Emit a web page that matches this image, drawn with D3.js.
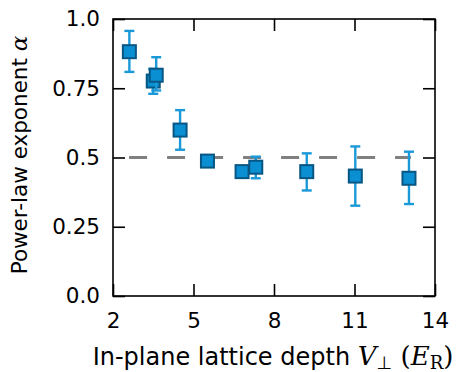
<!DOCTYPE html>
<html>
<head>
<meta charset="utf-8">
<script src="https://cdn.jsdelivr.net/npm/d3@7"></script>
<style>
  body { margin: 0; background: #fff; }
  svg { display: block; }
</style>
</head>
<body>
<div id="chart"></div>
<script>
'use strict';

// lattice depth V_perp (E_R) and fitted exponent with error bars
var depth = [2.61, 3.50, 3.61, 4.50, 5.52, 6.81, 7.32, 9.22, 11.03, 13.03];
var alpha = [0.882, 0.776, 0.797, 0.599, 0.487, 0.449, 0.465, 0.449, 0.433, 0.425];
var alphaLo = [0.809, 0.730, 0.742, 0.528, 0.475, 0.437, 0.425, 0.381, 0.326, 0.332];
var alphaHi = [0.957, 0.820, 0.862, 0.671, 0.499, 0.461, 0.503, 0.515, 0.540, 0.521];

var xTicks = [2, 5, 8, 11, 14];
var yTicks = [0, 0.25, 0.5, 0.75, 1.0];
var yTickLabels = ['0.0', '0.25', '0.5', '0.75', '1.0'];
var refAlpha = 0.5;
var refRange = [2.6, 13.1];

var W = 461, H = 372;
var mLeft = 113, mRight = 435, mTop = 19, mBottom = 296;

var svg = d3.select('#chart')
    .append('svg')
    .attr('width', W)
    .attr('height', H);

var x = d3.scaleLinear().domain([2, 14]).range([mLeft, mRight]);
var y = d3.scaleLinear().domain([0, 1]).range([mBottom, mTop]);

var font = '"DejaVu Sans", sans-serif';

function styleAxis(g) {
    g.select('.domain').remove();
    g.selectAll('.tick line').attr('stroke', '#000').attr('stroke-width', 1.6);
    g.selectAll('.tick text')
        .attr('font-family', font)
        .attr('font-size', '21.5px')
        .attr('fill', '#000');
}

svg.append('g')
    .attr('transform', 'translate(0,' + mBottom + ')')
    .call(d3.axisBottom(x).tickValues(xTicks).tickSize(-12).tickPadding(17).tickFormat(d3.format('d')))
    .call(styleAxis);

svg.append('g')
    .attr('transform', 'translate(0,' + mTop + ')')
    .call(d3.axisTop(x).tickValues(xTicks).tickSize(-12).tickFormat(''))
    .call(styleAxis);

svg.append('g')
    .attr('transform', 'translate(' + mLeft + ',0)')
    .call(d3.axisLeft(y).tickValues(yTicks).tickSize(-12).tickPadding(13)
        .tickFormat(function (d, i) { return yTickLabels[i]; }))
    .call(styleAxis);

svg.append('g')
    .attr('transform', 'translate(' + mRight + ',0)')
    .call(d3.axisRight(y).tickValues(yTicks).tickSize(-12).tickFormat(''))
    .call(styleAxis);

svg.append('rect')
    .attr('x', mLeft).attr('y', mTop)
    .attr('width', mRight - mLeft).attr('height', mBottom - mTop)
    .attr('fill', 'none')
    .attr('stroke', '#000')
    .attr('stroke-width', 1.6);

// reference line at alpha = 0.5
svg.append('line')
    .attr('x1', x(refRange[0])).attr('x2', x(refRange[1]))
    .attr('y1', y(refAlpha)).attr('y2', y(refAlpha))
    .attr('stroke', '#808080')
    .attr('stroke-width', 3)
    .attr('stroke-dasharray', '18,20');

var pts = depth.map(function (d, i) {
    return { x: d, y: alpha[i], lo: alphaLo[i], hi: alphaHi[i] };
});

var errColor = '#1a99d8';
var pt = svg.selectAll('g.pt')
    .data(pts)
    .enter()
    .append('g')
    .attr('class', 'pt');

pt.append('line')
    .attr('x1', function (d) { return x(d.x); })
    .attr('x2', function (d) { return x(d.x); })
    .attr('y1', function (d) { return y(d.lo); })
    .attr('y2', function (d) { return y(d.hi); })
    .attr('stroke', errColor)
    .attr('stroke-width', 2.4);

['lo', 'hi'].forEach(function (k) {
    pt.append('line')
        .attr('x1', function (d) { return x(d.x) - 5; })
        .attr('x2', function (d) { return x(d.x) + 5; })
        .attr('y1', function (d) { return y(d[k]); })
        .attr('y2', function (d) { return y(d[k]); })
        .attr('stroke', errColor)
        .attr('stroke-width', 2.4);
});

var s = 13;
pt.append('rect')
    .attr('x', function (d) { return x(d.x) - s / 2; })
    .attr('y', function (d) { return y(d.y) - s / 2; })
    .attr('width', s)
    .attr('height', s)
    .attr('fill', '#0b8fd3')
    .attr('stroke', '#075683')
    .attr('stroke-width', 2);

// axis labels
var serif = '"DejaVu Serif", serif';
var xl = svg.append('text')
    .attr('x', 273)
    .attr('y', 365)
    .attr('text-anchor', 'middle')
    .attr('font-family', font)
    .attr('font-size', '24px')
    .attr('fill', '#000');
xl.append('tspan').text('In-plane lattice depth ');
xl.append('tspan').attr('font-family', serif).attr('font-style', 'italic').attr('font-size', '26px').text('V');
xl.append('tspan').attr('font-size', '18px').attr('dy', 4).text('\u22a5');
xl.append('tspan').attr('dy', -4).attr('font-family', serif).attr('font-size', '26px').text(' (');
xl.append('tspan').attr('font-family', serif).attr('font-style', 'italic').attr('font-size', '26px').text('E');
xl.append('tspan').attr('font-family', serif).attr('font-size', '18px').attr('dy', 4).text('R');
xl.append('tspan').attr('font-family', serif).attr('font-size', '26px').attr('dy', -4).text(')');

var yl = svg.append('text')
    .attr('transform', 'translate(27,155) rotate(-90)')
    .attr('text-anchor', 'middle')
    .attr('font-family', font)
    .attr('font-size', '21.5px')
    .attr('fill', '#000');
yl.append('tspan').text('Power-law exponent ');
yl.append('tspan').attr('font-family', serif).attr('font-style', 'italic').attr('font-size', '23px').text('\u03b1');
</script>
</body>
</html>
